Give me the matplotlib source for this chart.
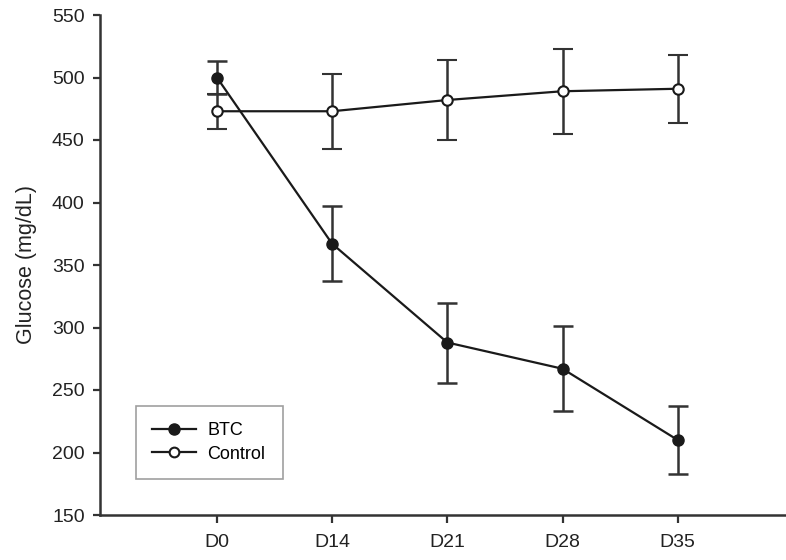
import matplotlib
matplotlib.use("Agg")
import matplotlib.pyplot as plt
from matplotlib.lines import Line2D

plt.rcParams['font.family'] = ['Liberation Sans', 'DejaVu Sans']

days = ["D0", "D14", "D21", "D28", "D35"]
btc_mean = [500, 367, 288, 267, 210]
btc_err = [13, 30, 32, 34, 27]
control_mean = [473, 473, 482, 489, 491]
control_err = [14, 30, 32, 34, 27]

ink = "#1a1a1a"
fig = plt.figure(figsize=(7.86, 5.6), dpi=100)
ax = fig.add_axes([100 / 786, 45 / 560, 686 / 786, 500 / 560])

x = list(range(len(days)))
ax.errorbar(x, btc_mean, yerr=btc_err, color=ink, lw=1.6, marker='o', ms=8,
            mfc=ink, mec=ink, ecolor="#333333", elinewidth=1.8, capsize=7,
            capthick=1.8, zorder=3)
ax.errorbar(x, control_mean, yerr=control_err, color=ink, lw=1.6, marker='o',
            ms=7.5, mfc='white', mec=ink, mew=1.5, ecolor="#333333",
            elinewidth=1.8, capsize=7, capthick=1.8, zorder=3)

ax.set_xlim(-1.015, 4.94)
ax.set_ylim(150, 550)
ax.set_xticks(x)
ax.set_xticklabels(days)
ax.set_yticks(range(150, 551, 50))
ax.set_ylabel("Glucose (mg/dL)", fontsize=15.5, color="#222222", labelpad=11)

for side in ("top", "right"):
    ax.spines[side].set_visible(False)
for side in ("left", "bottom"):
    ax.spines[side].set_linewidth(1.8)
    ax.spines[side].set_color("#333333")

ax.tick_params(axis='y', direction='out', length=5, width=1.6, pad=6,
               labelsize=14, colors="#333333", labelcolor="#222222")
ax.tick_params(axis='x', direction='out', length=6, width=1.6, pad=8,
               labelsize=14, colors="#333333", labelcolor="#222222")

handles = [
    Line2D([], [], color=ink, lw=1.6, marker='o', ms=8, mfc=ink, mec=ink),
    Line2D([], [], color=ink, lw=1.6, marker='o', ms=7, mfc='white', mec=ink, mew=1.5),
]
leg = fig.legend(handles, ["BTC", "Control"], loc='lower left',
                 bbox_to_anchor=(136 / 786, 81 / 560, 147 / 786, 75 / 560),
                 bbox_transform=fig.transFigure, mode="expand", borderaxespad=0,
                 fontsize=13, frameon=True, fancybox=False, borderpad=0.9,
                 handlelength=2.4, labelspacing=0.35, handletextpad=0.65)
leg.get_frame().set_edgecolor("#888888")
leg.get_frame().set_linewidth(1.2)

fig.savefig("out.png", dpi=100)
